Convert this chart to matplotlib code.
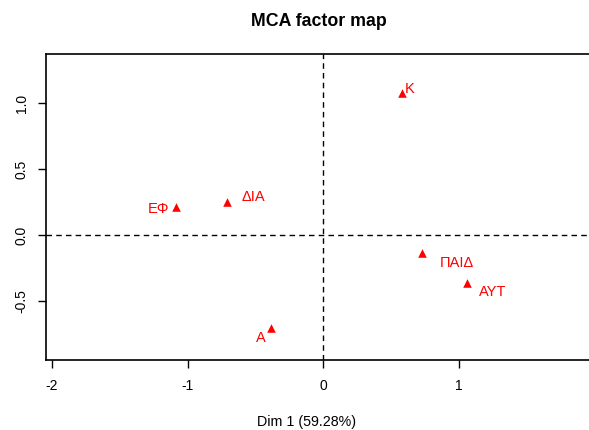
import matplotlib
matplotlib.use("Agg")
import matplotlib.pyplot as plt

# Data
labels = ["K", "ΠΑΙΔ", "ΑΥΤ", "ΕΦ", "ΔΙΑ", "Α"]
dim1 = [0.578, 0.726, 1.062, -1.089, -0.712, -0.388]
dim2 = [1.075, -0.139, -0.367, 0.215, 0.248, -0.708]
xticks = [-2, -1, 0, 1, 2]
yticks = [-0.5, 0.0, 0.5, 1.0]
ytick_labels = ["-0.5", "0.0", "0.5", "1.0"]
title = "MCA factor map"
xlabel = "Dim 1 (59.28%)"

# label offsets in pixels (style)
offsets_px = [(7.5, 4.3), (35, -9.4), (25.7, -8.4), (-17.4, -2.3), (26.6, 5), (-10, -10)]

plt.rcParams['font.family'] = ['Liberation Sans', 'DejaVu Sans']

W, H = 589, 430
fig = plt.figure(figsize=(W / 100, H / 100), dpi=100)
left, right, top, bottom = 46, 600.6, 54.3, 360
ax = fig.add_axes([left / W, (H - bottom) / H, (right - left) / W, (bottom - top) / H])
ax.set_xlim(-2.045, 2.045)
ax.set_ylim(-0.948, 1.371)

ax.axvline(0, color='black', linestyle=(0, (4, 3)), linewidth=1.0, zorder=1)
ax.axhline(0, color='black', linestyle=(0, (4, 3)), linewidth=1.0, zorder=1)

ax.scatter(dim1, dim2, marker='^', s=38, color='red', zorder=3, linewidths=0)
for lab, x, y, (dx, dy) in zip(labels, dim1, dim2, offsets_px):
    ax.annotate(lab, (x, y), xytext=(dx * 0.72, dy * 0.72), textcoords='offset points',
                ha='center', va='center', color='red', fontsize=10.5)

ax.set_xticks(xticks)
ax.set_xticklabels([str(t) for t in xticks])
ax.set_yticks(yticks)
ax.set_yticklabels(ytick_labels, rotation=90, va='center')
ax.tick_params(direction='out', length=5.5, width=1.0, labelsize=10, pad=8)
ax.tick_params(axis='y', pad=7)
for s in ax.spines.values():
    s.set_linewidth(1.2)

fig.text(307 / W, 1 - 422 / H, xlabel, ha='center', va='center', fontsize=10.3)
fig.text(319 / W, 1 - 22 / H, title, ha='center', va='center',
         fontsize=12.8, fontweight='bold')

fig.savefig("out.png", dpi=100)
